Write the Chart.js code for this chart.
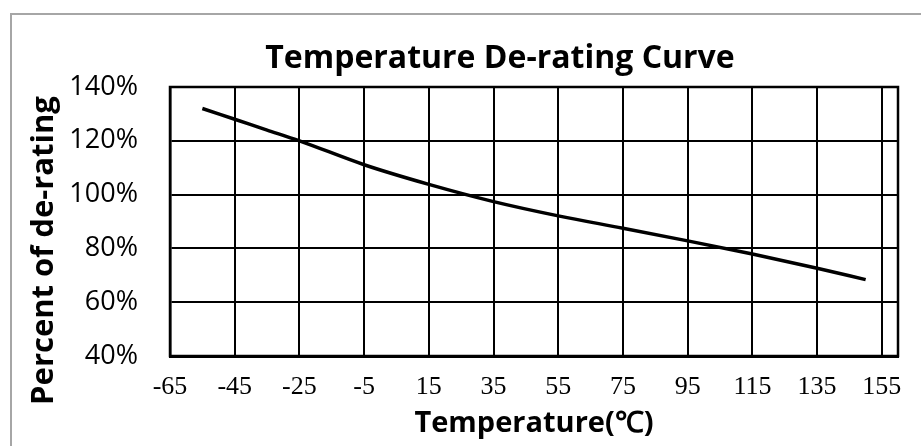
<!DOCTYPE html>
<html>
<head>
<meta charset="utf-8">
<title>Temperature De-rating Curve</title>
<script src="https://cdn.jsdelivr.net/npm/chart.js@4.4.0/dist/chart.umd.min.js"></script>
<style>
    body { margin: 0; background: #fff; overflow: hidden; }
    #wrap { position: relative; width: 921px; height: 446px; }
    #marco { position: absolute; left: 10px; top: 13px; right: 0; bottom: 0;
             border-left: 2px solid #a6a6a6; border-top: 2px solid #a6a6a6; }
    canvas { position: absolute; left: 0; top: 0; }
</style>
</head>
<body>
<div id="wrap">
    <div id="marco"></div>
    <canvas id="chart-derating" width="921" height="446"></canvas>
</div>
<script>
// Datos (temperatura en °C, porcentaje de de-rating)
const temperaturas = [-55, -45, -35, -25, -5, 15, 35, 55, 75, 95, 115, 135, 150];
const porcentajes = [132, 128, 124, 120, 111.1, 103.8, 97.4, 92.1, 87.5, 82.8, 77.9, 72.6, 68.4];

// Marcas de los ejes
const ticksX = [-65, -45, -25, -5, 15, 35, 55, 75, 95, 115, 135, 155];
const ticksY = [40, 60, 80, 100, 120, 140];

const titulo = 'Temperature De-rating Curve';
const tituloY = 'Percent of de-rating';
const tituloX = 'Temperature(℃)';

// Recuadro del área de trazado y títulos desplazados como en el original
const marcoPlugin = {
    id: 'marco',
    beforeDatasetsDraw(chart) {
        const a = chart.chartArea;
        const ctx = chart.ctx;
        ctx.save();
        ctx.strokeStyle = '#000';
        ctx.lineWidth = 2.5;
        ctx.strokeRect(a.left, a.top, a.right - a.left, a.bottom - a.top);
        ctx.restore();
    },
    afterDraw(chart) {
        const a = chart.chartArea;
        const ctx = chart.ctx;
        ctx.save();
        ctx.fillStyle = '#000';
        ctx.textAlign = 'center';
        ctx.textBaseline = 'alphabetic';
        ctx.font = 'bold 32px "Open Sans"';
        ctx.fillText(titulo, (a.left + a.right) / 2 - 34, a.top - 19);

        ctx.font = 'bold 31px "Open Sans"';
        ctx.translate(53, (a.top + a.bottom) / 2 + 29);
        ctx.rotate(-Math.PI / 2);
        ctx.fillText(tituloY, 0, 0);
        ctx.restore();
    }
};

function crearGrafico() {
    const ctx = document.getElementById('chart-derating');
    if (!ctx) return;

    new Chart(ctx, {
        type: 'line',
        data: {
            datasets: [{
                data: temperaturas.map((t, i) => ({ x: t, y: porcentajes[i] })),
                borderColor: '#000',
                borderWidth: 3.5,
                pointRadius: 0,
                fill: false,
                cubicInterpolationMode: 'monotone'
            }]
        },
        options: {
            responsive: false,
            animation: false,
            layout: {
                padding: { top: 87, right: 23, bottom: 0, left: 0 }
            },
            plugins: {
                legend: { display: false },
                tooltip: { enabled: false }
            },
            scales: {
                x: {
                    type: 'linear',
                    min: -65,
                    max: 160,
                    afterBuildTicks: scale => { scale.ticks = ticksX.map(v => ({ value: v })); },
                    afterFit: scale => { scale.height = 90; },
                    grid: { color: '#000', lineWidth: 2, drawTicks: false },
                    border: { color: '#000', width: 3 },
                    ticks: {
                        color: '#000',
                        padding: 16,
                        autoSkip: false,
                        maxRotation: 0,
                        font: { family: 'Liberation Serif', size: 26 }
                    },
                    title: {
                        display: true,
                        text: tituloX,
                        color: '#000',
                        padding: { top: 0, bottom: 5 },
                        font: { family: 'Open Sans', size: 29, weight: 'bold' }
                    }
                },
                y: {
                    min: 40,
                    max: 140,
                    afterBuildTicks: scale => { scale.ticks = ticksY.map(v => ({ value: v })); },
                    afterFit: scale => { scale.width = 170; },
                    grid: { color: '#000', lineWidth: 2, drawTicks: false },
                    border: { color: '#000', width: 2.5 },
                    ticks: {
                        color: '#000',
                        padding: 32,
                        font: { family: 'Open Sans', size: 27 },
                        callback: v => v + '%'
                    }
                }
            }
        },
        plugins: [marcoPlugin]
    });
}

document.addEventListener('DOMContentLoaded', crearGrafico);
</script>
</body>
</html>
